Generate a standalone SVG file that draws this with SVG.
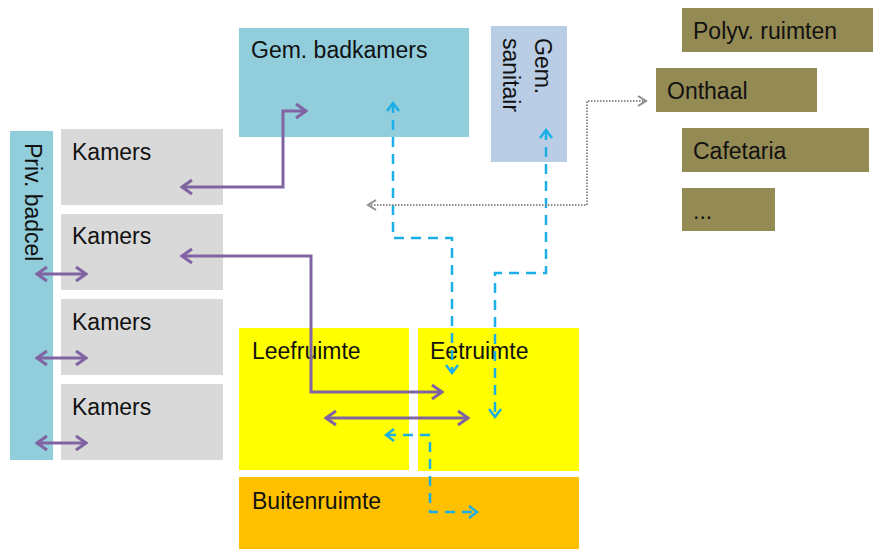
<svg xmlns="http://www.w3.org/2000/svg" width="874" height="549" viewBox="0 0 874 549">
<defs>
<style>
text{font-family:"Liberation Sans",Arial,sans-serif;font-size:23px;fill:#111}
.kam{fill:#d9d9d9}
.blue{fill:#92cddc}
.san{fill:#b9cde5}
.yel{fill:#ffff00}
.ora{fill:#ffc000}
.oli{fill:#948a54}
.pur{fill:none;stroke:#8064a2;stroke-width:3}
.dash{fill:none;stroke:#1caee6;stroke-width:2.5;stroke-dasharray:10 7}
.dot{fill:none;stroke:#8c8c8c;stroke-width:2;stroke-dasharray:1.5 1.5}
</style>
<marker id="mp" markerUnits="userSpaceOnUse" viewBox="-12 -10 14 20" markerWidth="14" markerHeight="20" refX="0" refY="0" orient="auto-start-reverse">
<path d="M-10,-7 L0,0 L-10,7" fill="none" stroke="#8064a2" stroke-width="3"/>
</marker>
<marker id="mb" markerUnits="userSpaceOnUse" viewBox="-12 -10 14 20" markerWidth="14" markerHeight="20" refX="0" refY="0" orient="auto-start-reverse">
<path d="M-8,-6 L0,0 L-8,6" fill="none" stroke="#1caee6" stroke-width="2.5"/>
</marker>
<marker id="mg" markerUnits="userSpaceOnUse" viewBox="-12 -10 14 20" markerWidth="14" markerHeight="20" refX="0" refY="0" orient="auto-start-reverse">
<path d="M-8,-5 L0,0 L-8,5" fill="none" stroke="#8c8c8c" stroke-width="2"/>
</marker>
</defs>
<rect width="874" height="549" fill="#fff"/>

<g id="priv-badcel"><rect class="blue" x="10" y="131" width="43" height="329"/><text transform="translate(25,143) rotate(90)">Priv. badcel</text></g>
<g id="kamers1"><rect class="kam" x="61" y="129" width="162" height="76"/><text x="72" y="160">Kamers</text></g>
<g id="kamers2"><rect class="kam" x="61" y="214" width="162" height="76"/><text x="72" y="244">Kamers</text></g>
<g id="kamers3"><rect class="kam" x="61" y="299" width="162" height="76"/><text x="72" y="330">Kamers</text></g>
<g id="kamers4"><rect class="kam" x="61" y="384" width="162" height="76"/><text x="72" y="415">Kamers</text></g>
<g id="gem-badkamers"><rect class="blue" x="239" y="28" width="230" height="109"/><text x="251" y="58">Gem. badkamers</text></g>
<g id="gem-sanitair"><rect class="san" x="491" y="26" width="76" height="136"/><text transform="translate(535,38) rotate(90)">Gem.</text><text transform="translate(503,38) rotate(90)">sanitair</text></g>
<g id="leefruimte"><rect class="yel" x="239" y="328" width="170" height="142"/><text x="252" y="359">Leefruimte</text></g>
<g id="eetruimte"><rect class="yel" x="418" y="328" width="161" height="143"/><text x="430" y="359">Eetruimte</text></g>
<g id="buitenruimte"><rect class="ora" x="239" y="477" width="340" height="72"/><text x="252" y="509">Buitenruimte</text></g>
<g id="polyv"><rect class="oli" x="682" y="8" width="191" height="44"/><text x="693" y="39">Polyv. ruimten</text></g>
<g id="onthaal"><rect class="oli" x="656" y="68" width="161" height="44"/><text x="667" y="99">Onthaal</text></g>
<g id="cafetaria"><rect class="oli" x="682" y="128" width="187" height="44"/><text x="693" y="159">Cafetaria</text></g>
<g id="more"><rect class="oli" x="682" y="188" width="93" height="43"/><text x="693" y="219">...</text></g>

<g id="connectors">
<path class="pur" d="M182,187 H283 V111 H306" marker-start="url(#mp)" marker-end="url(#mp)"/>
<path class="pur" d="M182,256 H311 V392 H442" marker-start="url(#mp)" marker-end="url(#mp)"/>
<path class="pur" d="M326,418 H468" marker-start="url(#mp)" marker-end="url(#mp)"/>
<path class="pur" d="M37,274 H86" marker-start="url(#mp)" marker-end="url(#mp)"/>
<path class="pur" d="M37,358 H86" marker-start="url(#mp)" marker-end="url(#mp)"/>
<path class="pur" d="M37,443 H86" marker-start="url(#mp)" marker-end="url(#mp)"/>
<path class="dash" d="M393,103 V238 H452 V373" marker-start="url(#mb)" marker-end="url(#mb)"/>
<path class="dash" d="M546,130 V273 H495 V417" marker-start="url(#mb)" marker-end="url(#mb)"/>
<path class="dash" d="M386,435 H430 V512 H477" marker-start="url(#mb)" marker-end="url(#mb)"/>
<path class="dot" d="M368,205 H587 V101 H646" marker-start="url(#mg)" marker-end="url(#mg)"/>
</g>
</svg>
